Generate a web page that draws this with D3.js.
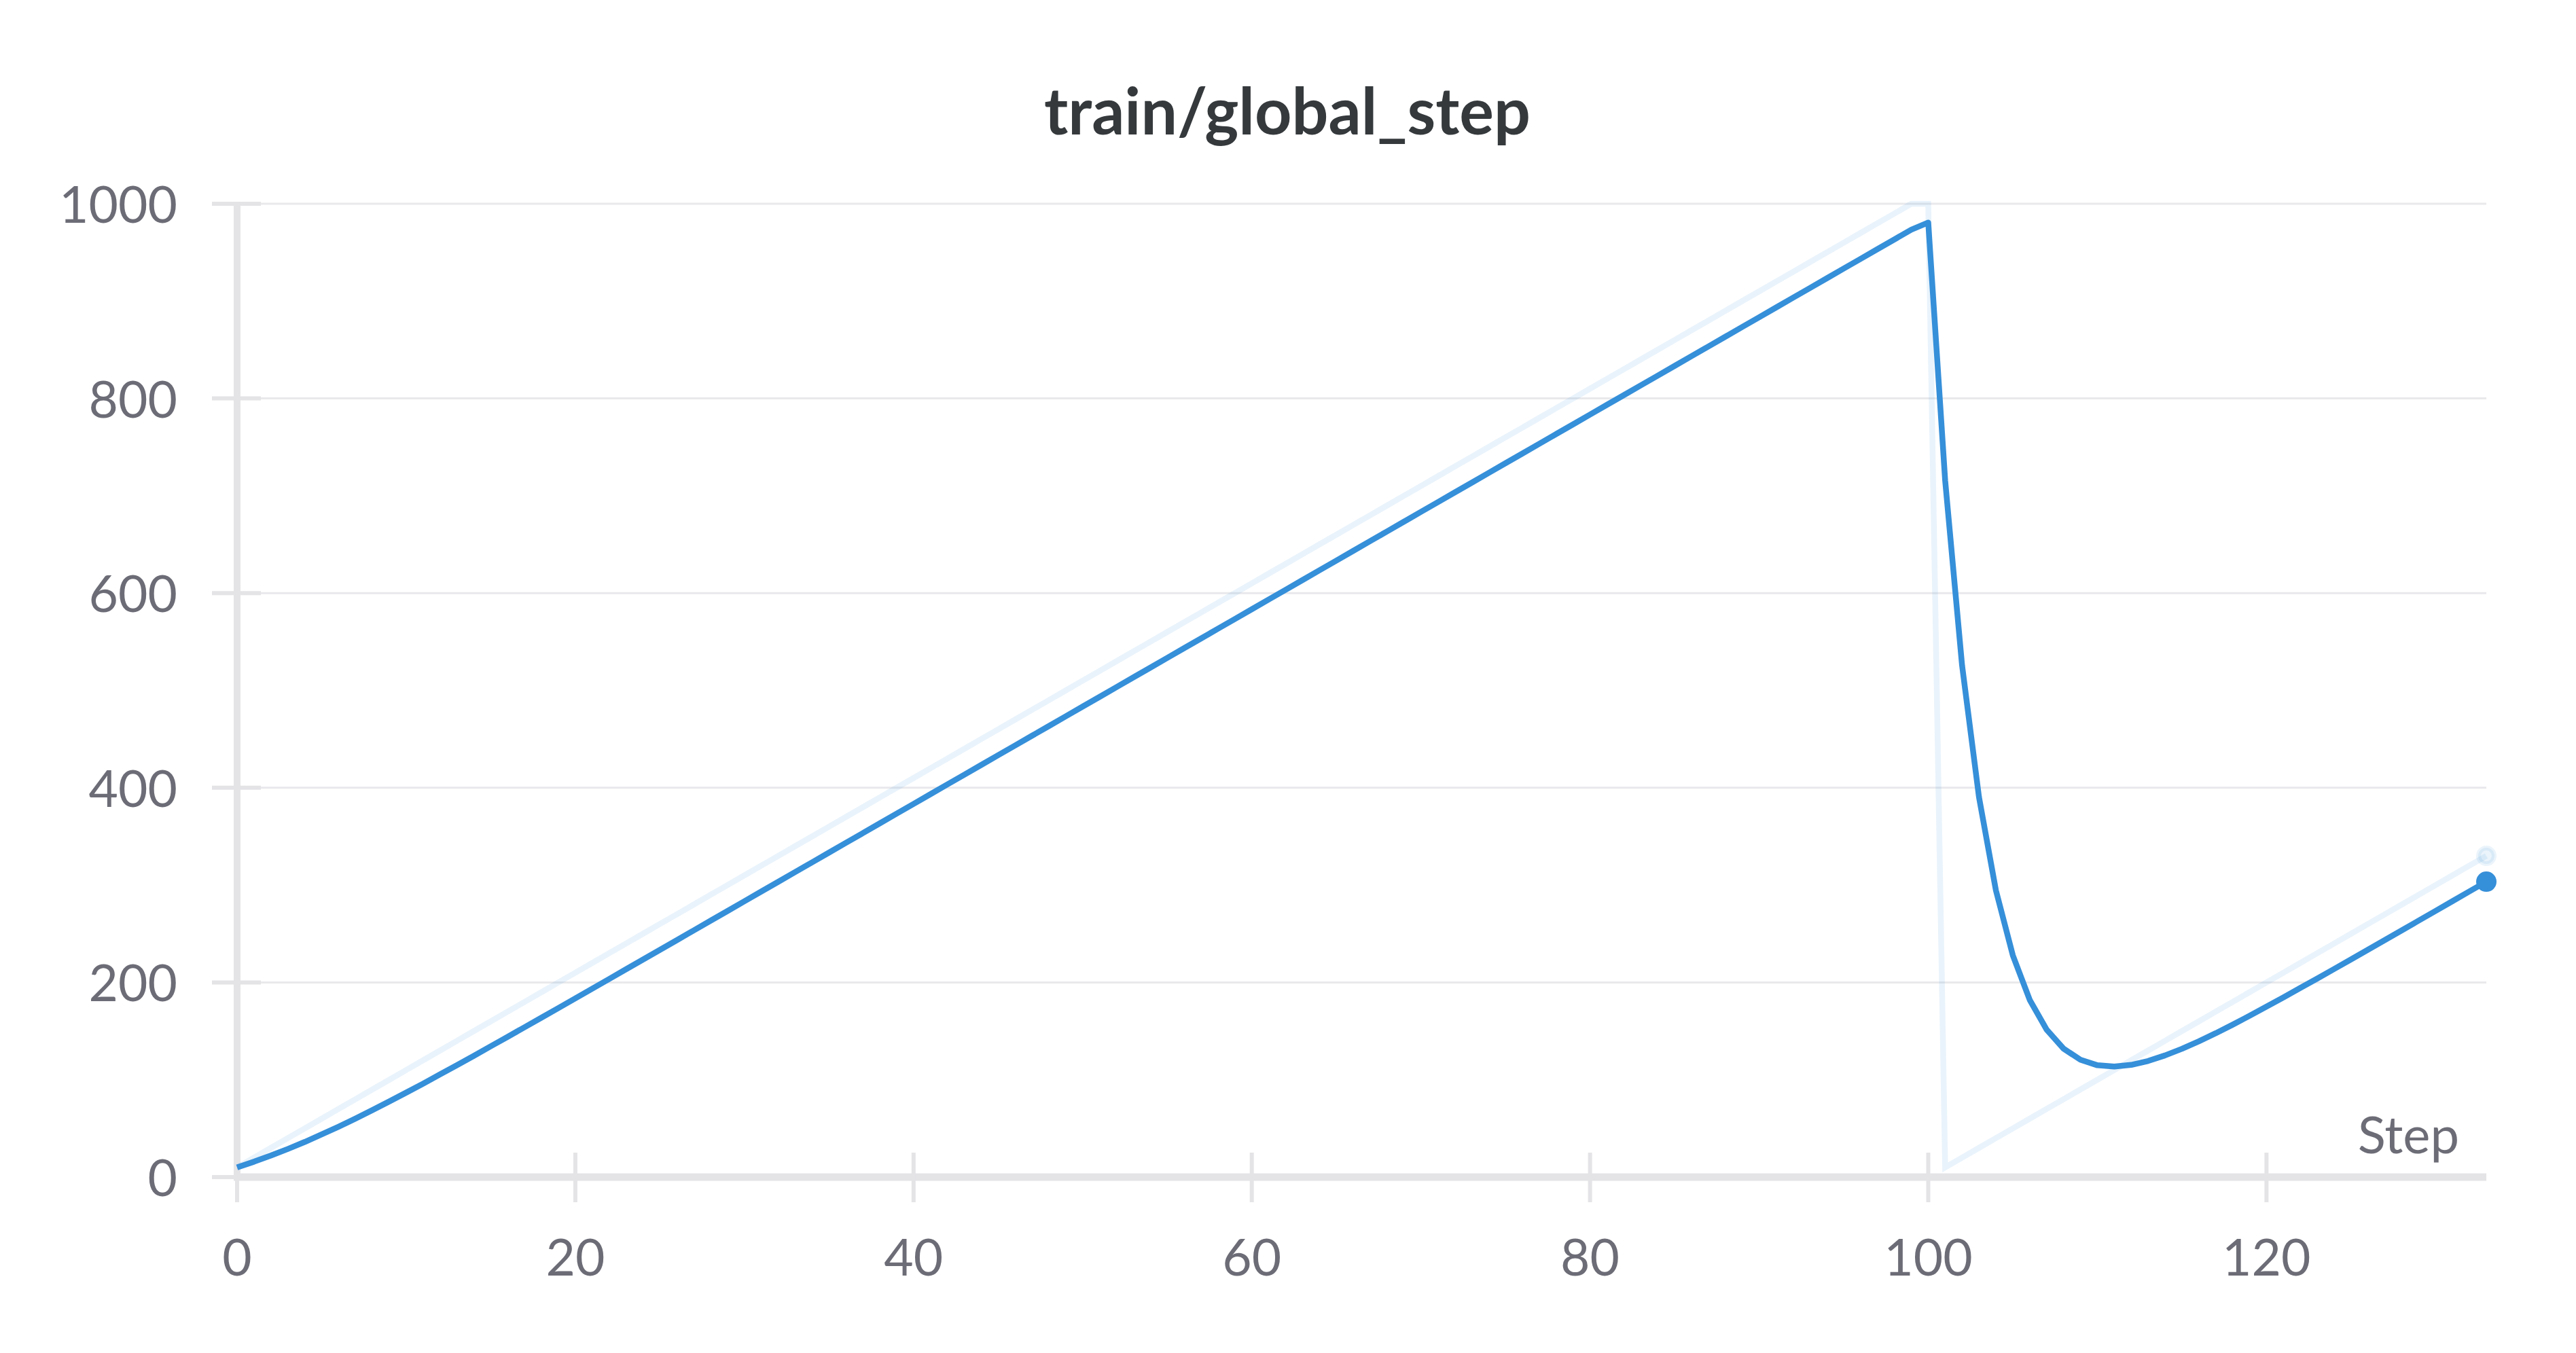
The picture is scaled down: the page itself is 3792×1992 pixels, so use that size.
<!DOCTYPE html>
<html><head><meta charset="utf-8">
<script src="https://cdn.jsdelivr.net/npm/d3@7/dist/d3.min.js"></script>
<style>html,body{margin:0;padding:0;background:#fff;} svg{display:block}</style>
</head><body>
<svg id="chart" width="3792" height="1992"></svg>
<script>
const chartTitle = "train/global_step";
const xAxisLabel = "Step";
const xTickValues = [0, 20, 40, 60, 80, 100, 120];
const yTickValues = [0, 200, 400, 600, 800, 1000];

const steps = [
  0,1,2,3,4,5,6,7,8,9,10,11,12,13,14,15,16,17,18,19,
  20,21,22,23,24,25,26,27,28,29,30,31,32,33,34,35,36,37,38,39,
  40,41,42,43,44,45,46,47,48,49,50,51,52,53,54,55,56,57,58,59,
  60,61,62,63,64,65,66,67,68,69,70,71,72,73,74,75,76,77,78,79,
  80,81,82,83,84,85,86,87,88,89,90,91,92,93,94,95,96,97,98,99,
  100,101,102,103,104,105,106,107,108,109,110,111,112,113,114,115,116,117,118,119,
  120,121,122,123,124,125,126,127,128,129,130,131,132,133
];

const rawValues = [
  10,20,30,40,50,60,70,80,90,100,110,120,130,140,150,160,170,180,190,200,
  210,220,230,240,250,260,270,280,290,300,310,320,330,340,350,360,370,380,390,400,
  410,420,430,440,450,460,470,480,490,500,510,520,530,540,550,560,570,580,590,600,
  610,620,630,640,650,660,670,680,690,700,710,720,730,740,750,760,770,780,790,800,
  810,820,830,840,850,860,870,880,890,900,910,920,930,940,950,960,970,980,990,1000,
  1000,10,20,30,40,50,60,70,80,90,100,110,120,130,140,150,160,170,180,190,
  200,210,220,230,240,250,260,270,280,290,300,310,320,330
];

const smoothedValues = [
  10,15.8,22.1,28.9,36.1,43.8,51.8,60.1,68.8,77.7,86.8,96.0,105.5,115.0,124.6,134.4,144.1,154.0,163.8,173.7,
  183.6,193.6,203.5,213.5,223.5,233.4,243.4,253.4,263.4,273.4,283.4,293.4,303.4,313.4,323.4,333.4,343.4,353.4,363.4,373.4,
  383.4,393.4,403.4,413.4,423.4,433.4,443.4,453.4,463.4,473.4,483.4,493.4,503.4,513.4,523.4,533.4,543.4,553.4,563.4,573.4,
  583.4,593.4,603.4,613.4,623.4,633.4,643.4,653.4,663.4,673.4,683.4,693.4,703.4,713.4,723.4,733.4,743.4,753.4,763.4,773.4,
  783.4,793.4,803.4,813.4,823.4,833.4,843.4,853.4,863.4,873.4,883.4,893.4,903.4,913.4,923.4,933.4,943.4,953.4,963.4,973.4,
  980.7,715.7,525.8,390.4,294.7,227.9,182.1,151.5,132.0,120.5,114.9,113.6,115.3,119.3,125.0,131.8,139.5,147.8,156.6,165.7,
  175.1,184.6,194.3,204.0,213.8,223.7,233.6,243.5,253.5,263.5,273.5,283.5,293.5,303.5
];

const lineColor = "#368fd9";
const axisColor = "#e4e4e7";
const gridColor = "#e9e9ec";
const labelColor = "#6c6c77";
const font = "Lato, 'Noto Sans', sans-serif";

const svg = d3.select("#chart");
const x = d3.scaleLinear().domain([0, 133]).range([349, 3660]);
const y = d3.scaleLinear().domain([0, 1000]).range([1733, 300]);
const plotRight = 3660;

// title
svg.append("text")
  .attr("x", 1895).attr("y", 198)
  .attr("text-anchor", "middle")
  .attr("font-family", font).attr("font-weight", 700)
  .attr("font-size", 95).attr("fill", "#35393c")
  .text(chartTitle);

// gridlines
svg.append("g").selectAll("line").data(yTickValues.filter(v => v !== 0)).join("line")
  .attr("x1", 384).attr("x2", plotRight)
  .attr("y1", d => y(d)).attr("y2", d => y(d))
  .attr("stroke", gridColor).attr("stroke-width", 3);

// y axis line
svg.append("line")
  .attr("x1", x(0)).attr("x2", x(0))
  .attr("y1", y(1000) - 3).attr("y2", y(0))
  .attr("stroke", axisColor).attr("stroke-width", 10);

// y ticks
svg.append("g").selectAll("line").data(yTickValues).join("line")
  .attr("x1", x(0) - 37).attr("x2", x(0) + 35)
  .attr("y1", d => y(d)).attr("y2", d => y(d))
  .attr("stroke", axisColor).attr("stroke-width", 6);

// x axis line
svg.append("line")
  .attr("x1", x(0) - 5).attr("x2", plotRight)
  .attr("y1", y(0)).attr("y2", y(0))
  .attr("stroke", axisColor).attr("stroke-width", 11);

// x ticks
svg.append("g").selectAll("line").data(xTickValues).join("line")
  .attr("x1", d => x(d)).attr("x2", d => x(d))
  .attr("y1", y(0) - 36).attr("y2", y(0) + 37)
  .attr("stroke", axisColor).attr("stroke-width", 6);

// y tick labels
svg.append("g").selectAll("text").data(yTickValues).join("text")
  .attr("x", 261).attr("y", d => y(d) + 28)
  .attr("text-anchor", "end")
  .attr("font-family", font).attr("font-size", 75).attr("fill", labelColor)
  .text(d => d3.format("d")(d));

// x tick labels
svg.append("g").selectAll("text").data(xTickValues).join("text")
  .attr("x", d => x(d)).attr("y", 1878)
  .attr("text-anchor", "middle")
  .attr("font-family", font).attr("font-size", 75).attr("fill", labelColor)
  .text(d => d3.format("d")(d));

// x axis label
svg.append("text")
  .attr("x", 3620).attr("y", 1698)
  .attr("text-anchor", "end")
  .attr("font-family", font).attr("font-size", 76).attr("fill", labelColor)
  .text(xAxisLabel);

const rawData = steps.map((s, i) => ({s, v: rawValues[i]}));
const smoothData = steps.map((s, i) => ({s, v: smoothedValues[i]}));
const line = d3.line().x(d => x(d.s)).y(d => y(d.v));

svg.append("path").datum(rawData)
  .attr("d", line).attr("fill", "none")
  .attr("stroke", lineColor).attr("stroke-opacity", 0.11)
  .attr("stroke-width", 8.5).attr("stroke-linejoin", "miter");

svg.append("path").datum(smoothData)
  .attr("d", line).attr("fill", "none")
  .attr("stroke", lineColor)
  .attr("stroke-width", 8.5).attr("stroke-linejoin", "round");

const lastRaw = rawData[rawData.length - 1];
const lastSmooth = smoothData[smoothData.length - 1];
svg.append("circle")
  .attr("cx", x(lastRaw.s)).attr("cy", y(lastRaw.v)).attr("r", 15)
  .attr("fill", lineColor).attr("fill-opacity", 0.1);
svg.append("circle")
  .attr("cx", x(lastRaw.s)).attr("cy", y(lastRaw.v)).attr("r", 10)
  .attr("fill", "none")
  .attr("stroke", lineColor).attr("stroke-opacity", 0.1).attr("stroke-width", 4);
svg.append("circle")
  .attr("cx", x(lastSmooth.s)).attr("cy", y(lastSmooth.v)).attr("r", 15)
  .attr("fill", lineColor);
</script>
</body></html>
